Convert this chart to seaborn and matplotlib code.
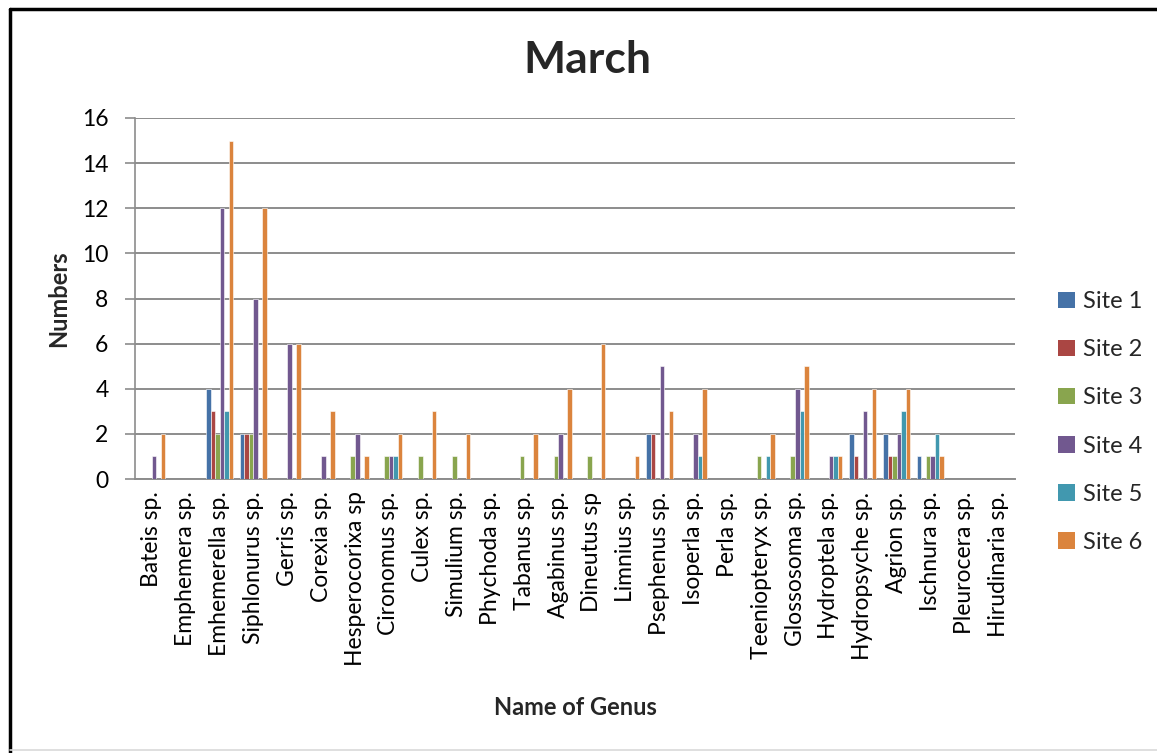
import matplotlib
matplotlib.use("Agg")
import matplotlib.pyplot as plt
from matplotlib.lines import Line2D
from matplotlib.patches import Patch
import pandas as pd
import seaborn as sns

genera = [
    "Bateis sp.", "Emphemera sp.", "Emhemerella sp.", "Siphlonurus sp.",
    "Gerris sp.", "Corexia sp.", "Hesperocorixa sp", "Cironomus sp.",
    "Culex sp.", "Simulium sp.", "Phychoda sp.", "Tabanus sp.",
    "Agabinus sp.", "Dineutus sp", "Limnius sp.", "Psephenus sp.",
    "Isoperla sp.", "Perla sp.", "Teeniopteryx sp.", "Glossosoma sp.",
    "Hydroptela sp.", "Hydropsyche sp.", "Agrion sp.", "Ischnura sp.",
    "Pleurocera sp.", "Hirudinaria sp.",
]
sites = ["Site 1", "Site 2", "Site 3", "Site 4", "Site 5", "Site 6"]

site1 = [0, 0, 4, 2, 0, 0, 0, 0, 0, 0, 0, 0, 0, 0, 0, 2, 0, 0, 0, 0, 0, 2, 2, 1, 0, 0]
site2 = [0, 0, 3, 2, 0, 0, 0, 0, 0, 0, 0, 0, 0, 0, 0, 2, 0, 0, 0, 0, 0, 1, 1, 0, 0, 0]
site3 = [0, 0, 2, 2, 0, 0, 1, 1, 1, 1, 0, 1, 1, 1, 0, 0, 0, 0, 1, 1, 0, 0, 1, 1, 0, 0]
site4 = [1, 0, 12, 8, 6, 1, 2, 1, 0, 0, 0, 0, 2, 0, 0, 5, 2, 0, 0, 4, 1, 3, 2, 1, 0, 0]
site5 = [0, 0, 3, 0, 0, 0, 0, 1, 0, 0, 0, 0, 0, 0, 0, 0, 1, 0, 1, 3, 1, 0, 3, 2, 0, 0]
site6 = [2, 0, 15, 12, 6, 3, 1, 2, 3, 2, 0, 2, 4, 6, 1, 3, 4, 0, 2, 5, 1, 4, 4, 1, 0, 0]

colors = ["#4572A7", "#AA4643", "#89A54E", "#71588F", "#4198AF", "#DB843D"]

rows = []
for site, vals in zip(sites, [site1, site2, site3, site4, site5, site6]):
    for g, v in zip(genera, vals):
        rows.append({"Genus": g, "Site": site, "Count": v})
df = pd.DataFrame(rows)

sns.set_theme(style="white")
plt.rcParams["font.family"] = ["Lato", "DejaVu Sans"]

fig = plt.figure(figsize=(11.57, 7.53), dpi=100)
ax = fig.add_axes([135 / 1157, 1 - 479 / 753, 880 / 1157, 361 / 753])

sns.barplot(
    data=df, x="Genus", y="Count", hue="Site", order=genera, hue_order=sites,
    palette=colors, width=0.8, edgecolor="white", linewidth=0.4,
    saturation=1, ax=ax, legend=False, zorder=3,
)

ax.set_ylim(0, 16)
ax.set_yticks(range(0, 17, 2))
ax.set_xlim(-0.5, len(genera) - 0.5)
ax.yaxis.grid(True, color="#8c8c8c", linewidth=1.4, zorder=0)
ax.set_axisbelow(True)
for side in ["top", "right"]:
    ax.spines[side].set_visible(False)
ax.spines["left"].set_color("#8c8c8c")
ax.spines["left"].set_linewidth(1.2)
ax.spines["bottom"].set_color("#8c8c8c")
ax.spines["bottom"].set_linewidth(1.4)

ax.tick_params(axis="y", which="major", left=True, length=7, width=1.2,
               color="#8c8c8c", labelsize=16.5, pad=12, labelcolor="black")
ax.tick_params(axis="x", length=0, labelsize=16.5, pad=9, labelcolor="black")
plt.setp(ax.get_xticklabels(), rotation=90, ha="center", va="top")

ax.set_xlabel("Name of Genus", fontsize=17, fontweight="bold")
ax.set_ylabel("Numbers", fontsize=17, fontweight="bold")
ax.xaxis.set_label_coords(0.5, (479 - 696) / 361)
ax.yaxis.set_label_coords((70 - 135) / 880, 0.5)

fig.text(587 / 1157, 1 - 60 / 753, "March", ha="center", va="center",
         fontsize=32, fontweight="bold")

handles = [Patch(facecolor=c, edgecolor="none") for c in colors]
fig.legend(handles, sites, loc="center left",
           bbox_to_anchor=(1037 / 1157, 1 - 422 / 753),
           frameon=False, fontsize=17, handlelength=0.7, handleheight=0.7,
           handletextpad=0.35, labelspacing=1.15)

# Document frame around the chart
fig.add_artist(Line2D([10 / 1157, 10 / 1157], [0, 1 - 9 / 753],
                      transform=fig.transFigure, color="black", linewidth=2.5))
fig.add_artist(Line2D([10 / 1157, 1], [1 - 9 / 753, 1 - 9 / 753],
                      transform=fig.transFigure, color="black", linewidth=2.5))
fig.add_artist(Line2D([10 / 1157, 1], [3 / 753, 3 / 753],
                      transform=fig.transFigure, color="#d9d9d9", linewidth=1.2))

fig.savefig("out.png", dpi=100)
